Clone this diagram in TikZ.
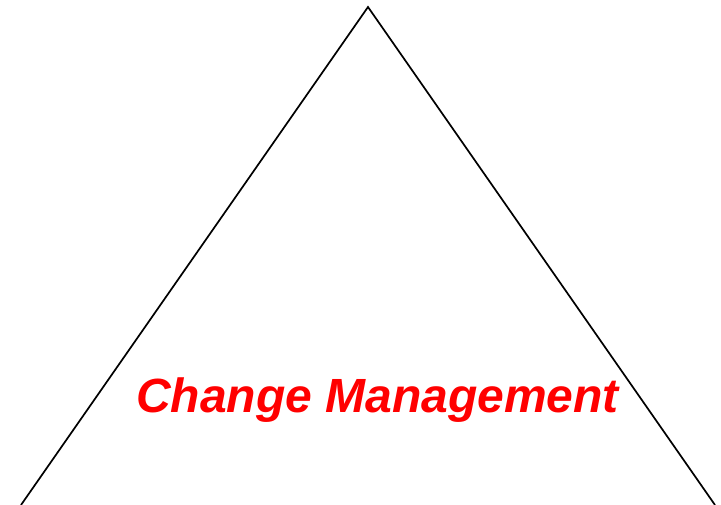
\documentclass[tikz,border=0pt]{standalone}
\usepackage{fontspec}
\setmainfont{Liberation Sans}
\begin{document}
\begin{tikzpicture}[x=1pt,y=-1pt,
  edge/.style={draw=black,line width=1.7pt},
  title/.style={text=red,font=\fontsize{48}{55}\selectfont\bfseries\itshape,inner sep=0pt,anchor=base}]
\useasboundingbox (0,0) rectangle (721,505);
\coordinate (apex) at (368,7);
\coordinate (bl) at (21,505);
\coordinate (br) at (715,505);
\draw[edge] (bl) -- (apex) -- (br);
\node[title] (label) at (377.5,412) {Change Management};
\end{tikzpicture}
\end{document}
